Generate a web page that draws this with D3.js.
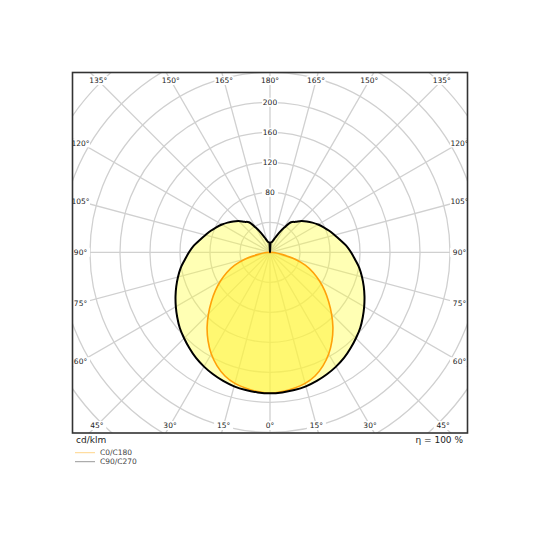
<!DOCTYPE html>
<html>
<head>
<meta charset="utf-8">
<script src="https://cdn.jsdelivr.net/npm/d3@7"></script>
<style>
  body { margin: 0; background: #fff; }
  text { font-family: "DejaVu Sans", sans-serif; }
</style>
</head>
<body>
<svg id="chart" width="540" height="540"></svg>
<script>
// gamma angles (deg) and intensities in cd/klm
const gammas = [0,5,10,15,20,25,30,35,40,45,50,55,60,65,70,75,80,85,90,
  95,100,105,110,115,120,125,130,135,140,145,150,155,160,165,170,175,180];
const c0c180 = [188,186.5,184,181,175.5,167,156.5,144,130.5,116,102,89,76,63.5,50,34,16,7,0,
  0,0,0,0,0,0,0,0,0,0,0,0,0,0,0,0,0,0];
const c90c270 = [188,187.5,186.5,185,182.5,179.5,176,172,167,162,157,151,145,139,133,127,121,114,108,
  102,95,89,84,79,74,69,64,59,53,49,38,28.5,21,16.5,14,13,0];
const ringValues = [40,80,120,160,200,240,280,320,360,400];
const ringLabels = [80,120,160,200];
const angleTicks = [0,15,30,45,60,75,90,105,120,135,150,165,180];
const seriesNames = ["C0/C180", "C90/C270"];

const svg = d3.select("#chart");
const frame = {x0: 72.5, y0: 72.5, x1: 467.5, y1: 433};
const cx = 270, cy = 252.3;

const r = d3.scaleLinear().domain([0, 200]).range([0, 150]);
const rad = d => d * Math.PI / 180;

svg.append("clipPath").attr("id", "clip")
  .append("rect")
  .attr("x", frame.x0).attr("y", frame.y0)
  .attr("width", frame.x1 - frame.x0).attr("height", frame.y1 - frame.y0);

const plot = svg.append("g").attr("clip-path", "url(#clip)");
const g = plot.append("g").attr("transform", "translate(" + cx + "," + cy + ")");

// grid: rings and rays every 15 deg
g.selectAll(".ring").data(ringValues).enter().append("circle")
  .attr("r", d => r(d))
  .attr("fill", "none").attr("stroke", "#d0d0d0").attr("stroke-width", 1.3);

const rays = [];
angleTicks.forEach(a => { rays.push(a); if (a > 0 && a < 180) rays.push(-a); });
g.selectAll(".ray").data(rays).enter().append("line")
  .attr("x1", 0).attr("y1", 0)
  .attr("x2", d => r(400) * Math.sin(rad(d)))
  .attr("y2", d => r(400) * Math.cos(rad(d)))
  .attr("stroke", "#d0d0d0").attr("stroke-width", 1.3);

// polar curves: right half C0 / C90, left half mirrored (C180 / C270)
function closedPoints(vals) {
  const right = gammas.map((gm, i) => [Math.PI - rad(gm), r(vals[i])]);
  const left = gammas.slice(1, -1).reverse().map(gm => [Math.PI + rad(gm), r(vals[gammas.indexOf(gm)])]);
  return right.concat(left);
}
const radial = d3.lineRadial().angle(d => d[0]).radius(d => d[1]).curve(d3.curveCatmullRomClosed.alpha(0.5));

g.append("path")
  .attr("d", radial(closedPoints(c90c270)))
  .attr("fill", "#ffff3a").attr("fill-opacity", 0.38)
  .attr("stroke", "none");
g.append("path")
  .attr("d", radial(closedPoints(c0c180)))
  .attr("fill", "#fff23a").attr("fill-opacity", 0.55)
  .attr("stroke", "#ffa10a").attr("stroke-width", 1.6);
g.append("path")
  .attr("d", radial(closedPoints(c90c270)))
  .attr("fill", "none")
  .attr("stroke", "#000").attr("stroke-width", 2);

// ring labels along the 180 deg ray
const rl = g.selectAll(".rl").data(ringLabels).enter().append("g")
  .attr("transform", d => "translate(0," + (-r(d)) + ")");
rl.append("rect").attr("x", -8).attr("y", -4.5).attr("width", 16).attr("height", 9).attr("fill", "#fff");
rl.append("text").attr("text-anchor", "middle").attr("dy", "0.35em")
  .attr("font-size", 7.5).attr("fill", "#222").text(d => d);

// angle labels where each ray meets the inset frame
const inset = {x0: frame.x0 + 8, x1: frame.x1 - 8, y0: frame.y0 + 8, y1: frame.y1 - 7.5};
function edgePoint(a) {
  const dx = Math.sin(rad(a)), dy = Math.cos(rad(a));
  let t = Infinity;
  if (dx > 1e-9) t = Math.min(t, (inset.x1 - cx) / dx);
  if (dx < -1e-9) t = Math.min(t, (inset.x0 - cx) / dx);
  if (dy > 1e-9) t = Math.min(t, (inset.y1 - cy) / dy);
  if (dy < -1e-9) t = Math.min(t, (inset.y0 - cy) / dy);
  return [cx + t * dx, cy + t * dy];
}
const al = plot.selectAll(".al").data(rays).enter().append("g")
  .attr("transform", d => "translate(" + edgePoint(d) + ")");
al.append("rect").attr("x", -9.5).attr("y", -4.5).attr("width", 19).attr("height", 9).attr("fill", "#fff");
al.append("text").attr("text-anchor", "middle").attr("dy", "0.35em")
  .attr("font-size", 7.5).attr("fill", "#222").text(d => Math.abs(d) + "°");

// frame
svg.append("rect")
  .attr("x", frame.x0).attr("y", frame.y0)
  .attr("width", frame.x1 - frame.x0).attr("height", frame.y1 - frame.y0)
  .attr("fill", "none").attr("stroke", "#333").attr("stroke-width", 1.6);

svg.append("text").attr("x", 76).attr("y", 443).attr("font-size", 9).attr("fill", "#222").text("cd/klm");
svg.append("text").attr("x", 463).attr("y", 443).attr("text-anchor", "end")
  .attr("font-size", 9).attr("fill", "#222").text("η = 100 %");

// legend
const legColors = ["#ffd58a", "#999"];
const leg = svg.selectAll(".leg").data(seriesNames).enter().append("g")
  .attr("transform", (d, i) => "translate(75," + (452.7 + i * 9) + ")");
leg.append("line").attr("x1", 0).attr("x2", 20).attr("stroke", (d, i) => legColors[i]).attr("stroke-width", 1);
leg.append("text").attr("x", 25).attr("dy", "0.35em").attr("font-size", 7.5).attr("fill", "#444").text(d => d);
</script>
</body>
</html>
